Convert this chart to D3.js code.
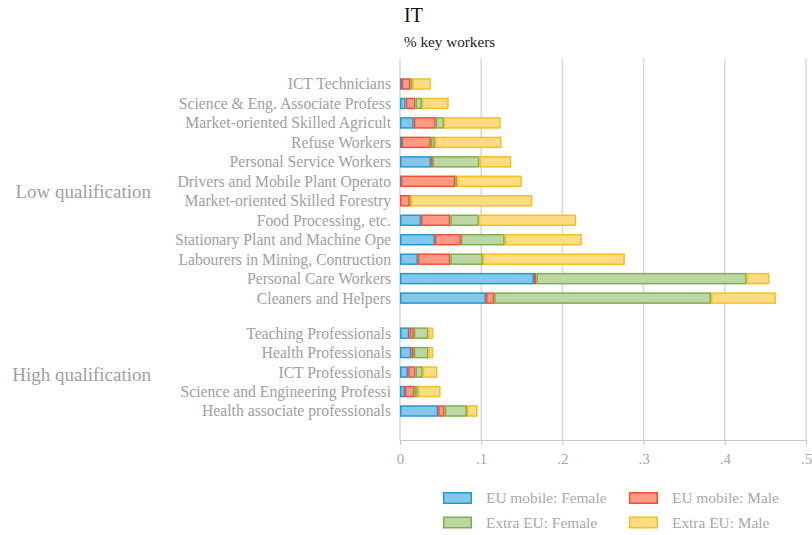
<!DOCTYPE html>
<html><head><meta charset="utf-8">
<script src="https://cdn.jsdelivr.net/npm/d3@7"></script>
<style>body{margin:0;background:#fff}svg{display:block}text{font-family:"Liberation Serif","DejaVu Serif",serif}</style>
</head><body><svg id="c" width="812" height="535"></svg>
<script>
const lowCategories = ["ICT Technicians","Science & Eng. Associate Profess","Market-oriented Skilled Agricult","Refuse Workers","Personal Service Workers","Drivers and Mobile Plant Operato","Market-oriented Skilled Forestry","Food Processing, etc.","Stationary Plant and Machine Ope","Labourers in Mining, Contruction","Personal Care Workers","Cleaners and Helpers"];
const highCategories = ["Teaching Professionals","Health Professionals","ICT Professionals","Science and Engineering Professi","Health associate professionals"];
const groupLabels = ["Low qualification","High qualification"];
const seriesNames = ["EU mobile: Female","EU mobile: Male","Extra EU: Female","Extra EU: Male"];
// values per category, low then high
const euFemale   = [0.002,0.007,0.017,0.002,0.038,0.001,0.000,0.026,0.043,0.022,0.165,0.106, 0.0115,0.014,0.010,0.006,0.047];
const euMale     = [0.011,0.012,0.027,0.036,0.002,0.067,0.012,0.036,0.032,0.040,0.003,0.010, 0.0055,0.003,0.009,0.012,0.008];
const extraFemale= [0.002,0.008,0.010,0.005,0.058,0.002,0.001,0.035,0.054,0.040,0.259,0.267, 0.018,0.018,0.009,0.004,0.0275];
const extraMale  = [0.023,0.033,0.070,0.082,0.039,0.080,0.150,0.120,0.095,0.175,0.028,0.080, 0.006,0.006,0.018,0.028,0.013];
const xTicks = [0,0.1,0.2,0.3,0.4,0.5];
const xTickLabels = ["0",".1",".2",".3",".4",".5"];

const fills = ["#84c7e8","#ff9a86","#bcd7a3","#fcdc82"];
const strokes = ["#1e9bd7","#ff4b30","#7ab04f","#f9bf1c"];

const cats = lowCategories.concat(highCategories);
const slots = lowCategories.map((d,i)=>i).concat(highCategories.map((d,i)=>lowCategories.length+0.8+i));
const data = cats.map((c,i)=>({cat:c, slot:slots[i], vals:[euFemale[i],euMale[i],extraFemale[i],extraMale[i]]}));

const svg = d3.select("#c");
const x = d3.scaleLinear().domain([0,0.5]).range([400,806]);
const y = d3.scaleLinear().domain([0,16.8]).range([84,411]);
const barH = 11.5;

// gridlines
svg.append("g").selectAll("line").data(xTicks).join("line")
  .attr("x1",d=>x(d)).attr("x2",d=>x(d)).attr("y1",58).attr("y2",440)
  .attr("stroke","#d9d9d9").attr("stroke-width",1.5);

// axis
const axis = d3.axisBottom(x).tickValues(xTicks).tickFormat((d,i)=>xTickLabels[i]).tickSize(5).tickPadding(8);
const ax = svg.append("g").attr("transform","translate(0,440)").call(axis);
ax.select(".domain").attr("stroke","#c8c8c8").attr("stroke-width",1.2);
ax.selectAll(".tick line").attr("stroke","#c8c8c8");
ax.selectAll("text").attr("fill","#a8a8a8").style("font-size","15px").style("font-family","'Liberation Serif',serif");

// bars
const rows = svg.append("g").selectAll("g").data(data).join("g");
rows.each(function(d){
  let cum = 0;
  const segs = d.vals.map((v,k)=>{const s={x0:cum,x1:cum+v,k}; cum+=v; return s;});
  d3.select(this).selectAll("rect").data(segs.filter(s=>s.x1-s.x0>0)).join("rect")
    .attr("x",s=>x(s.x0)+0.75).attr("width",s=>Math.max(0.5,x(s.x1)-x(s.x0)-1.5))
    .attr("y",y(d.slot)-barH/2+0.75).attr("height",barH-1.5)
    .attr("fill",s=>fills[s.k]).attr("stroke",s=>strokes[s.k]).attr("stroke-width",1.5);
});

// category labels
svg.append("g").selectAll("text").data(data).join("text")
  .attr("x",391).attr("y",d=>y(d.slot)).attr("dy","0.35em").attr("text-anchor","end")
  .attr("fill","#a0a0a0").style("font-size","15.7px").text(d=>d.cat);

// group labels
const groupY = [(y(0)+y(11))/2, (y(slots[12])+y(slots[16]))/2+2];
svg.append("g").selectAll("text").data(groupLabels).join("text")
  .attr("x",151).attr("y",(d,i)=>groupY[i]).attr("dy","0.35em").attr("text-anchor","end")
  .attr("fill","#a0a0a0").style("font-size","19px").text(d=>d);

// title
svg.append("text").attr("x",404).attr("y",22).attr("fill","#111").style("font-size","20px").text("IT");
svg.append("text").attr("x",404).attr("y",47).attr("fill","#222").style("font-size","15.2px").text("% key workers");

// legend
const legPos = [[443,492],[629,492],[443,516.5],[629,516.5]];
const leg = svg.append("g").selectAll("g").data(seriesNames).join("g")
  .attr("transform",(d,i)=>`translate(${legPos[i][0]},${legPos[i][1]})`);
leg.append("rect").attr("x",0.75).attr("y",0.75).attr("width",27.5).attr("height",10.5)
  .attr("fill",(d,i)=>fills[i]).attr("stroke",(d,i)=>strokes[i]).attr("stroke-width",1.5);
leg.append("text").attr("x",43).attr("y",6).attr("dy","0.35em").attr("fill","#a8a8a8").style("font-size","15.4px").text(d=>d);
</script></body></html>
